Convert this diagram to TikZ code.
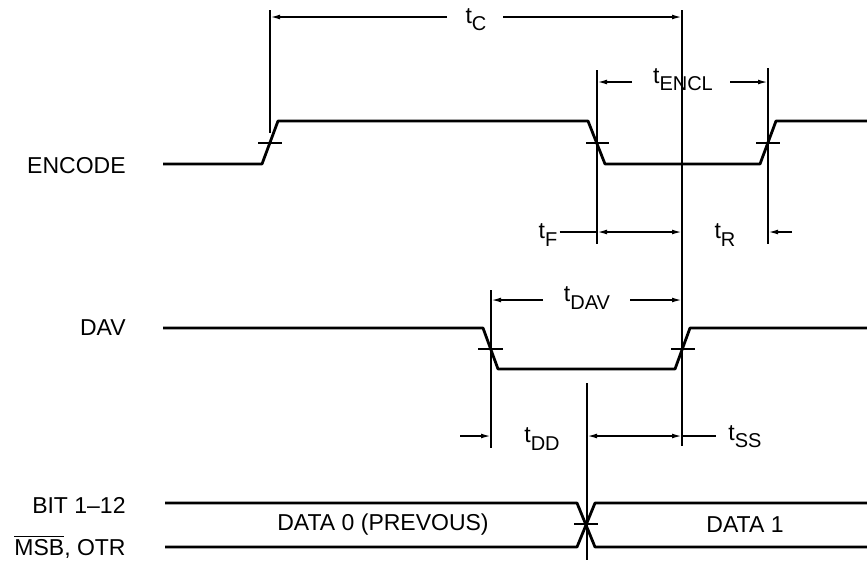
\documentclass[tikz,border=0pt]{standalone}
\usepackage{fontspec}
\setmainfont{Liberation Sans}
\usetikzlibrary{arrows.meta}
\newcommand{\tsub}[1]{t\raisebox{-0.6ex}{\fontsize{10}{11}\selectfont #1}}

\begin{document}
\begin{tikzpicture}[x=0.5pt,y=-0.5pt,
    signal/.style={line width=1.4pt,line join=round},
    dimline/.style={line width=0.8pt},
    dimarrow/.style={dimline,-{Latex[length=5pt,width=2.4pt]}},
    dimboth/.style={dimline,{Latex[length=5pt,width=2.4pt]}-{Latex[length=5pt,width=2.4pt]}},
    txt/.style={font=\fontsize{11.5}{13}\selectfont,inner sep=1pt}]

    \useasboundingbox (0,0) rectangle (867,563);

    \node[txt,anchor=east] (encode) at (128,166) {ENCODE};
    \node[txt,anchor=east] (dav) at (128,328) {DAV};
    \node[txt,anchor=east] (bits) at (128,505) {BIT 1--12};
    \node[txt,anchor=east] (msb) at (128,547) {$\overline{\mbox{MSB}}$, OTR};

    \draw [signal] (163,164) -- (262,164) -- (278,121) -- (588,121) -- (605,164) -- (760,164) -- (776,121) -- (867,121);
    \draw [dimline] (258,143) -- (282,143);
    \draw [dimline] (586,143) -- (609,143);
    \draw [dimline] (756,143) -- (780,143);

    \draw [signal] (163,328) -- (483,328) -- (498,369) -- (675,369) -- (690,328) -- (867,328);
    \draw [dimline] (478,349) -- (503,349);
    \draw [dimline] (671,349) -- (695,349);

    \draw [signal] (165,503) -- (577,503) -- (595,547) -- (867,547);
    \draw [signal] (165,547) -- (577,547) -- (595,503) -- (867,503);
    \draw [dimline] (574,524) -- (598,524);

    \coordinate (riseA) at (270,10);
    \coordinate (fallA) at (597,70);
    \coordinate (riseB) at (768,68);
    \coordinate (main) at (682,10);
    \coordinate (davfall) at (491,290);
    \coordinate (datax) at (587,383);

    \draw [dimline] (riseA) -- (270,133);
    \draw [dimline] (main) -- (682,446);
    \draw [dimline] (fallA) -- (597,244);
    \draw [dimline] (riseB) -- (768,244);
    \draw [dimline] (davfall) -- (491,448);
    \draw [dimline] (datax) -- (587,560);

    \node[txt] (tc) at (476,20) {\tsub{C}};
    \draw [dimarrow] (447,17) -- (riseA |- 0,17);
    \draw [dimarrow] (503,17) -- (main |- 0,17);

    \node[txt] (tencl) at (683,80) {\tsub{ENCL}};
    \draw [dimarrow] (632,82) -- (fallA |- 0,82);
    \draw [dimarrow] (730,82) -- (riseB |- 0,82);

    \node[txt] (tf) at (548,235) {\tsub{F}};
    \draw [dimline] (tf.east |- 0,232) -- (fallA |- 0,232);
    \draw [dimboth] (fallA |- 0,232) -- (main |- 0,232);
    \node[txt] (tr) at (725,235) {\tsub{R}};
    \draw [dimarrow] (792,232) -- (riseB |- 0,232);

    \node[txt] (tdav) at (587,298) {\tsub{DAV}};
    \draw [dimarrow] (543,300) -- (davfall |- 0,300);
    \draw [dimarrow] (630,300) -- (main |- 0,300);

    \node[txt] (tdd) at (542,439) {\tsub{DD}};
    \draw [dimarrow] (460,436) -- (davfall |- 0,436);
    \node[txt] (tss) at (745,437) {\tsub{SS}};
    \draw [dimboth] (datax |- 0,436) -- (main |- 0,436);
    \draw [dimline] (main |- 0,436) -- (716,436);

    \node[txt] (data0) at (383,525) {DATA 0 (PREVOUS)};
    \node[txt] (data1) at (745,525) {DATA 1};

\end{tikzpicture}
\end{document}
